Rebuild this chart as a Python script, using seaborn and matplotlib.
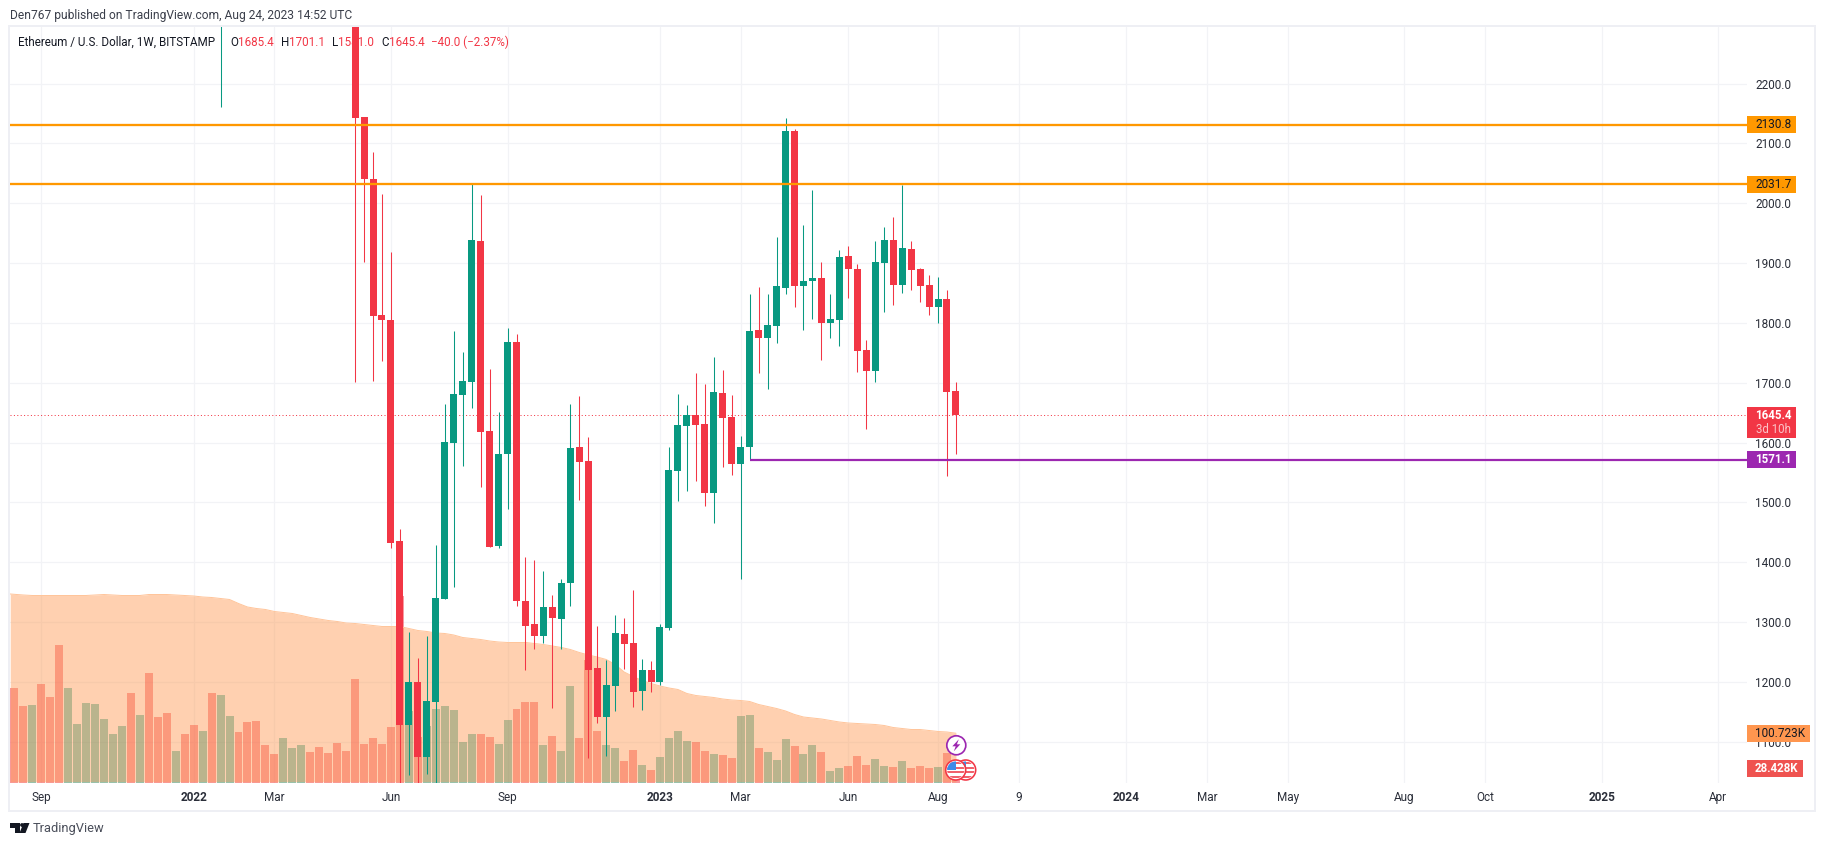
import numpy as np
import pandas as pd
import matplotlib
matplotlib.use("Agg")
import matplotlib.pyplot as plt
from matplotlib.patches import Rectangle, Circle, Polygon
import seaborn as sns

nan = float("nan")
W, H = 1825, 846

volume_k = [191,155,157,199,173,277,191,119,161,159,129,99,115,181,137,221,133,141,65,99,117,105,181,177,135,103,123,125,77,59,91,71,77,63,73,61,81,65,209,79,91,79,113,375,145,93,115,149,155,147,83,99,99,93,79,127,149,163,163,77,95,65,195,91,247,105,77,71,45,67,37,27,53,91,105,85,83,65,59,57,51,135,137,71,63,47,89,75,59,77,63,25,31,35,55,37,49,35,33,45,31,35,31,33,61,28.4]
volume_ma_k = [378,376,375,375,375,375,375,375,375,376,377,376,375,375,375,377,377,377,376,375,374,372,371,369,367,359,352,349,347,343,341,339,335,331,328,325,323,320,319,317,315,313,313,313,309,305,303,300,299,296,291,289,287,284,282,281,281,281,279,277,274,271,267,261,256,252,247,237,222,213,205,199,194,190,187,179,175,173,171,168,166,165,163,157,153,149,144,137,132,130,128,125,122,120,119,118,117,115,111,109,107,107,105,103,102,99.5]
side = list("rrgrrrgggg" "gggrgrrrgr" "rgrggrrrrr" "gggrrrrrrr" "rrrrgrgggg" "ggrrggrrrg" "rggrrrggrr" "grggggrrgr" "rggrgggrgg" "rggrrrggrg" "rrrgrr")

opens = [nan]*23+[2450]+[nan]*14+[2500,2144,2040,1813,1805,1436,1128,1200,1075,1167,1339,1599,1680,1702,1937,1619,1427,1581,1768,1335,1297,1277,1325,1305,1365,1593,1569,1223,1142,1193,1280,1265,1185,1220,1200,1290,1552,1628,1646,1631,1516,1683,1643,1564,1593,1788,1775,1795,1858,2121,1862,1870,1875,1800,1805,1912,1890,1755,1720,1900,1938,1863,1923,1890,1863,1826,1840,1685.4]
highs = [nan]*23+[2600]+[nan]*14+[2550,2144,2085,2015,1919,1456,1284,1240,1277,1429,1664,1786,1751,2032,2014,1723,1651,1791,1782,1409,1404,1385,1345,1372,1664,1678,1609,1294,1237,1312,1307,1354,1238,1235,1297,1593,1681,1663,1716,1698,1743,1721,1679,1611,1848,1860,1848,1943,2142,2124,1963,2022,1902,1848,1922,1928,1898,1771,1937,1960,1977,2030,1937,1892,1880,1877,1855,1701.1]
lows = [nan]*23+[2161]+[nan]*14+[1702,1902,1703,1737,1424,1000,1045,1000,1046,1000,1339,1358,1561,1658,1526,1425,1424,1489,1327,1220,1255,1265,1157,1255,1327,1504,1073,1131,1076,1152,1222,1158,1153,1183,1195,1287,1502,1519,1536,1494,1466,1559,1546,1372,1573,1716,1690,1766,1848,1826,1788,1806,1738,1775,1761,1842,1718,1623,1701,1818,1830,1850,1855,1835,1813,1800,1544,1581]
closes = [nan]*23+[2500]+[nan]*14+[2143,2040,1812,1805,1433,1128,1200,1075,1168,1340,1601,1681,1703,1938,1618,1426,1581,1768,1335,1294,1277,1325,1307,1365,1591,1568,1220,1142,1195,1282,1264,1183,1220,1200,1292,1554,1629,1646,1629,1516,1684,1641,1564,1593,1786,1775,1796,1862,2121,1862,1870,1875,1800,1806,1910,1890,1753,1720,1902,1938,1863,1925,1888,1862,1826,1840,1684,1645.4]

price_ticks = [1100,1200,1300,1400,1500,1600,1700,1800,1900,2000,2100,2200]
time_ticks = [4,21,30,43,56,73,82,94,104,113,125,134,143,156,165,178,191]
time_labels = ["Sep","2022","Mar","Jun","Sep","2023","Mar","Jun","Aug","9","2024","Mar","May","Aug","Oct","2025","Apr"]
year_labels = {"2022","2023","2024","2025"}

level_high, level_mid, level_support, last_close = 2130.8, 2031.7, 1571.1, 1645.4
GREEN, RED, ORANGE, PURPLE, INK = "#089981", "#F23645", "#FF9800", "#9C27B0", "#131722"
GRID = "#F2F3F6"
FONT = "Roboto"
FS = 8.5

sns.set_theme(style="white")
plt.rcParams["font.family"] = [FONT, "DejaVu Sans"]

fig = plt.figure(figsize=(W/100, H/100), dpi=100, facecolor="white")
px = 0.72  # one pixel in points

def fx(x): return x / W
def fy(y): return 1 - y / H

L, T, R, B = 9.5, 27, 1747, 783
rect = [fx(L), fy(B), fx(R) - fx(L), fy(T) - fy(B)]
pitch, first_x = 8.968, 14.3
xlim = (1 + (L - first_x) / pitch, 1 + (R - first_x) / pitch)
pp = 0.5985
ylim = (2200 - (B - 83.5) / pp, 2200 + (83.5 - T) / pp)

ax_bg = fig.add_axes(rect, zorder=0)
ax_vol = fig.add_axes(rect, zorder=1)
ax = fig.add_axes(rect, zorder=2)
for a in (ax_bg, ax_vol, ax):
    a.set_xlim(*xlim)
    a.set_ylim(*ylim)
    for s in a.spines.values():
        s.set_visible(False)
for a in (ax_vol, ax):
    a.patch.set_visible(False)

# background grid and axes
ax_bg.set_facecolor("white")
ax_bg.set_xticks(time_ticks)
ax_bg.set_xticklabels(time_labels)
ax_bg.set_yticks(price_ticks)
ax_bg.set_yticklabels([f"{p:.1f}" for p in price_ticks])
ax_bg.yaxis.tick_right()
ax_bg.grid(True, color=GRID, lw=1.2*px)
ax_bg.set_axisbelow(True)
ax_bg.tick_params(axis="y", length=0, pad=6.0, labelsize=FS, labelcolor="#2a2e39")
ax_bg.tick_params(axis="x", length=0, pad=6.0, labelsize=FS, labelcolor="#2a2e39")
for t in ax_bg.get_xticklabels():
    if t.get_text() in year_labels:
        t.set_fontweight("bold")

# volume
weeks = np.arange(1, len(volume_k) + 1)
vol_df = pd.DataFrame({"week": weeks, "volume": volume_k, "side": side, "ma": volume_ma_k})
sns.barplot(data=vol_df, x="week", y="volume", hue="side", palette={"r": RED, "g": GREEN},
            native_scale=True, dodge=False, width=0.89, alpha=0.5, saturation=1,
            legend=False, ax=ax_vol, linewidth=0)
ma_x = vol_df["week"].astype(float).copy()
ma_x.iloc[0] = xlim[0] + 0.08  # the moving average runs in from the pane's left edge
ax_vol.fill_between(ma_x, 2.2, vol_df["ma"], color="#FF9850", alpha=0.45, lw=0, zorder=3)
sns.lineplot(x=ma_x, y=vol_df["ma"], color="#FFC59B", lw=1*px, ax=ax_vol, zorder=4)
ax_vol.set_xlim(*xlim)
ax_vol.set_ylim(0, (B - T) * 2.0)
ax_vol.axis("off")

# candles
ohlc = pd.DataFrame({"week": weeks, "o": opens, "h": highs, "l": lows, "c": closes}).dropna()
up = ohlc["c"] >= ohlc["o"]
colors = np.where(up, GREEN, RED)
ax.vlines(ohlc["week"], ohlc["l"], ohlc["h"], colors=colors, lw=1.05*px, zorder=3)
ax.bar(ohlc["week"], (ohlc["c"] - ohlc["o"]).abs(), bottom=ohlc[["o", "c"]].min(axis=1),
       width=0.78, color=colors, lw=0, zorder=4)
ax.axhline(level_high, color=ORANGE, lw=2.3*px, zorder=5)
ax.axhline(level_mid, color=ORANGE, lw=2.3*px, zorder=5)
ax.plot([83, xlim[1]], [level_support, level_support], color=PURPLE, lw=2.2*px, zorder=5, solid_capstyle="butt")
ax.axhline(last_close, color=RED, lw=1*px, ls=(0, (1, 2.4)), zorder=2)
ax.set_xlim(*xlim)
ax.set_ylim(*ylim)
ax.axis("off")

# chart frame
fig.patches.append(Rectangle((fx(9), fy(811)), fx(1815) - fx(9), fy(26.5) - fy(811), transform=fig.transFigure,
                             fill=False, ec="#EEEFF4", lw=2*px, zorder=0.5))

# price labels
def box(x0, y0, x1, y1, color):
    fig.patches.append(Rectangle((fx(x0), fy(y1)), fx(x1) - fx(x0), fy(y0) - fy(y1), transform=fig.transFigure,
                                 fc=color, ec="none", zorder=10))
def label(x, y, s, color="#131722", size=FS, weight="normal", ha="left", z=11):
    return fig.text(fx(x), fy(y), s, color=color, fontsize=size, fontweight=weight, ha=ha, va="center", zorder=z)

box(1747, 116, 1796, 132.7, ORANGE); label(1755.5, 124.6, f"{level_high:.1f}")
box(1747, 176, 1796, 192.7, ORANGE); label(1755.5, 184.6, f"{level_mid:.1f}")
box(1747, 407, 1796, 437.7, RED)
label(1755.5, 415, f"{last_close:.1f}", "white", weight="bold", size=8.3)
label(1755.5, 429.5, "3d 10h", "#FBC4C8", size=8.3)
box(1747, 451, 1796, 467.7, PURPLE); label(1755.5, 459.8, f"{level_support:.1f}", "white", weight="bold", size=8.3)
box(1747, 725, 1809.5, 741.7, "#FF964F"); label(1755.5, 733.6, "100.723K")
box(1747, 760, 1802.5, 776.7, "#EF5350"); label(1755, 768.8, "28.428K", "white", weight="bold", size=8.3)

# header and legend
label(10, 15.5, "Den767 published on TradingView.com, Aug 24, 2023 14:52 UTC", "#3a3e4a", 8.65, z=1)
label(18.5, 42, "Ethereum / U.S. Dollar, 1W, BITSTAMP", INK, 8.4, z=1)
for x, s, c in [(230, "O", INK), (238, "1685.4", RED), (281, "H", INK), (289, "1701.1", RED),
                (332, "L", INK), (338, "1581.0", RED), (381, "C", INK), (389, "1645.4", RED),
                (431, "\u221240.0 (\u22122.37%)", RED)]:
    label(x, 42, s, c, 8.4, z=1)

# event icons
def disc(cx, cy, r, **kw):
    c = Circle((cx, H - cy), r, transform=None, **kw)
    fig.patches.append(c)
    return c

def flag(cx, cy, z):
    disc(cx, cy, 10, fc="white", ec=RED, lw=1.6*px, zorder=z)
    clip = Circle((cx, H - cy), 8.6, transform=None)
    for k in range(4):
        r = Rectangle((cx - 10, H - cy - 8 + k*4.6), 20, 2.3, transform=None, fc="#F0616C", ec="none", zorder=z + 0.1)
        r.set_clip_path(clip)
        fig.patches.append(r)
    r = Rectangle((cx - 10, H - cy), 10, 9, transform=None, fc="#3D8BE8", ec="none", zorder=z + 0.2)
    r.set_clip_path(clip)
    fig.patches.append(r)

flag(965.7, 770, 6)
flag(955.7, 770, 7)
disc(956.3, 745.3, 9.5, fc="white", ec=PURPLE, lw=1.7*px, zorder=6)
bolt = np.array([[2.5, -6], [-4, 1], [-0.6, 1], [-2.5, 6], [4, -1], [0.6, -1]])
fig.patches.append(Polygon(np.c_[956.3 + bolt[:, 0], H - 745.3 - bolt[:, 1]], closed=True, transform=None,
                           fc=PURPLE, ec="none", zorder=6.1))

# footer logo
for pts in ([[10, 823], [20, 823], [20, 833], [15, 833], [15, 827.5], [10, 827.5]],
            [[23.5, 823], [29.5, 823], [25.5, 833], [19.5, 833]]):
    arr = np.array(pts, dtype=float)
    fig.patches.append(Polygon(np.c_[arr[:, 0], H - arr[:, 1]], closed=True, transform=None, fc=INK, ec="none", zorder=6))
fig.patches.append(Circle((22, H - 825), 1.9, transform=None, fc=INK, ec="none", zorder=6))
label(33, 828.5, "TradingView", "#4a4e5a", 9.3)

fig.savefig("out.png", dpi=100, facecolor="white")
